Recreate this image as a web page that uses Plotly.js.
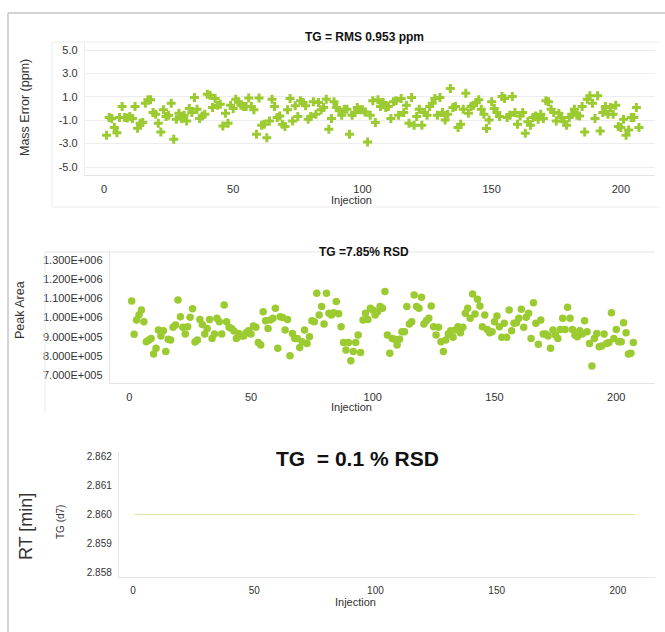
<!DOCTYPE html>
<html>
<head>
<meta charset="utf-8">
<script src="https://cdn.plot.ly/plotly-3.0.1.min.js"></script>
<style>html,body{margin:0;padding:0;background:#fff;}#chart{width:665px;height:632px;}</style>
</head>
<body>
<div id="chart"></div>
<script>
// ---------- DATA ----------
const injection = Array.from({length: 207}, (_, i) => i + 1);

const massError = [
-2.29,-0.77,-0.86,-1.63,-2.06,-0.77,0.17,-0.77,-0.80,-0.69,
-0.86,0.17,-1.69,-1.26,-1.20,0.46,0.74,0.74,-0.34,-0.49,
-1.26,-2.00,-0.11,-0.69,-0.57,0.46,-2.63,-0.91,-0.40,-0.86,
-0.57,-1.06,0.00,-0.34,0.94,-0.06,-0.86,-0.63,-0.49,1.23,
1.14,0.09,0.86,0.29,0.37,-1.49,-0.40,-1.26,0.29,0.00,
0.80,0.57,0.29,0.17,0.17,0.91,0.17,-0.11,-2.20,0.91,
-1.43,-1.34,-2.49,-1.06,0.80,0.17,-0.77,-0.63,-1.34,-1.54,
-0.11,0.86,-1.06,0.23,-0.69,0.66,0.51,0.23,-0.91,-0.69,
0.57,-0.49,0.51,-0.11,0.09,0.80,-1.77,-0.86,0.57,0.09,
-0.20,-0.57,-0.06,-0.06,-2.20,-0.57,-0.34,0.09,-0.11,-0.11,
-0.30,-2.86,-0.57,0.66,-1.20,0.74,0.17,0.51,0.09,0.17,
-0.86,0.57,0.66,-0.57,0.86,-0.34,0.29,-1.26,0.94,-1.43,
-0.69,-0.06,-1.43,-0.34,-0.57,0.17,0.46,0.86,-0.57,0.94,
-0.34,-0.97,-0.49,1.71,0.09,0.17,-1.63,-1.34,-0.06,1.31,
-0.40,0.17,0.29,0.51,0.74,-0.06,-0.49,-1.71,-0.97,0.57,
0.00,-0.34,-0.69,1.03,0.86,-0.77,-0.57,1.03,-0.34,-1.34,
-0.63,-0.34,-2.11,-1.14,-1.43,-0.77,-0.63,-0.91,-0.49,-0.86,
0.66,0.57,-0.06,-0.34,-1.06,-0.40,-0.77,-1.14,-1.43,-0.77,
-0.49,-0.06,-0.57,-0.63,0.17,-2.00,0.80,1.09,0.46,-0.86,
1.09,-1.91,-0.34,0.17,-0.49,0.09,-0.49,0.29,-1.54,-1.63,
-0.91,-2.29,-1.83,-0.77,-0.77,0.09,-1.63
];

const peakArea = [
1086000,912000,987000,1013000,1039000,978000,874000,883000,891000,810000,
839000,935000,903000,931000,822000,886000,883000,949000,961000,1091000,
1004000,949000,914000,952000,1001000,1046000,872000,883000,990000,964000,
914000,942000,990000,891000,914000,996000,978000,914000,1065000,978000,
949000,943000,930000,891000,917000,903000,903000,921000,931000,914000,
956000,949000,869000,857000,1030000,983000,943000,987000,996000,1048000,
839000,1004000,1000000,935000,990000,800000,917000,891000,891000,844000,
874000,935000,865000,900000,983000,978000,1126000,1013000,1057000,966000,
1126000,1022000,1013000,1025000,1083000,1020000,952000,869000,830000,869000,
775000,822000,869000,909000,817000,987000,1022000,990000,1048000,1039000,
1013000,1030000,1057000,1048000,1135000,909000,813000,891000,886000,857000,
886000,926000,926000,1057000,966000,978000,1117000,1057000,1048000,1105000,
966000,983000,996000,1060000,952000,909000,949000,874000,822000,883000,
914000,931000,897000,935000,952000,921000,949000,1022000,1048000,996000,
1123000,1018000,1095000,1060000,952000,1013000,938000,921000,926000,978000,
1008000,952000,897000,970000,897000,1039000,931000,970000,973000,996000,
1043000,949000,1001000,1022000,891000,1077000,970000,860000,987000,914000,
914000,903000,839000,935000,909000,891000,938000,996000,938000,1053000,
996000,938000,909000,900000,931000,914000,983000,926000,865000,747000,
891000,917000,848000,851000,914000,865000,869000,1025000,891000,938000,
874000,874000,973000,921000,810000,813000,869000
];

const retentionTime = [
2.860,2.860,2.860,2.860,2.860,2.860,2.860,2.860,2.860,2.860,
2.860,2.860,2.860,2.860,2.860,2.860,2.860,2.860,2.860,2.860,
2.860,2.860,2.860,2.860,2.860,2.860,2.860,2.860,2.860,2.860,
2.860,2.860,2.860,2.860,2.860,2.860,2.860,2.860,2.860,2.860,
2.860,2.860,2.860,2.860,2.860,2.860,2.860,2.860,2.860,2.860,
2.860,2.860,2.860,2.860,2.860,2.860,2.860,2.860,2.860,2.860,
2.860,2.860,2.860,2.860,2.860,2.860,2.860,2.860,2.860,2.860,
2.860,2.860,2.860,2.860,2.860,2.860,2.860,2.860,2.860,2.860,
2.860,2.860,2.860,2.860,2.860,2.860,2.860,2.860,2.860,2.860,
2.860,2.860,2.860,2.860,2.860,2.860,2.860,2.860,2.860,2.860,
2.860,2.860,2.860,2.860,2.860,2.860,2.860,2.860,2.860,2.860,
2.860,2.860,2.860,2.860,2.860,2.860,2.860,2.860,2.860,2.860,
2.860,2.860,2.860,2.860,2.860,2.860,2.860,2.860,2.860,2.860,
2.860,2.860,2.860,2.860,2.860,2.860,2.860,2.860,2.860,2.860,
2.860,2.860,2.860,2.860,2.860,2.860,2.860,2.860,2.860,2.860,
2.860,2.860,2.860,2.860,2.860,2.860,2.860,2.860,2.860,2.860,
2.860,2.860,2.860,2.860,2.860,2.860,2.860,2.860,2.860,2.860,
2.860,2.860,2.860,2.860,2.860,2.860,2.860,2.860,2.860,2.860,
2.860,2.860,2.860,2.860,2.860,2.860,2.860,2.860,2.860,2.860,
2.860,2.860,2.860,2.860,2.860,2.860,2.860,2.860,2.860,2.860,
2.860,2.860,2.860,2.860,2.860,2.860,2.860
];

const xTickVals = [0, 50, 100, 150, 200];
const massTickVals = [-5, -3, -1, 1, 3, 5];
const massTickText = ['-5.0', '-3.0', '-1.0', '1.0', '3.0', '5.0'];
const areaTickVals = [700000, 800000, 900000, 1000000, 1100000, 1200000, 1300000];
const areaTickText = ['7.000E+005', '8.000E+005', '9.000E+005', '1.000E+006', '1.100E+006', '1.200E+006', '1.300E+006'];
const rtTickVals = [2.858, 2.859, 2.860, 2.861, 2.862];
const rtTickText = ['2.858', '2.859', '2.860', '2.861', '2.862'];

const titleTop = 'TG = RMS 0.953 ppm';
const titleMid = 'TG =7.85% RSD';
const titleBot = 'TG&nbsp; = 0.1 % RSD';

// ---------- STYLE ----------
const W = 665, H = 632;
const px = v => v / W;
const py = v => 1 - v / H;
const green = '#9bcb30';
const FONT = 'Liberation Sans, Arial, Helvetica, sans-serif';
const tickCol = '#333333';
const axLine = '#e4e4e4';

const traces = [
  {x: injection, y: massError, type: 'scatter', mode: 'markers', xaxis: 'x', yaxis: 'y',
   marker: {symbol: 'cross', size: 7.5, color: green, line: {width: 0}}},
  {x: injection, y: peakArea, type: 'scatter', mode: 'markers', xaxis: 'x2', yaxis: 'y2',
   marker: {symbol: 'circle', size: 7.5, color: green, line: {width: 0}}},
  {x: injection, y: retentionTime, type: 'scatter', mode: 'lines', xaxis: 'x3', yaxis: 'y3',
   line: {color: '#a6d040', width: 1.2, dash: '1px,1px'}}
];

function xAx(dom, anchor, range, fs) {
  return {domain: dom, anchor: anchor, range: range, tickvals: xTickVals, showgrid: false,
          zeroline: false, showline: true, linecolor: axLine, linewidth: 1.2, ticks: '',
          ticklabelstandoff: 4, tickfont: {size: fs, color: tickCol, family: FONT}};
}
function yAx(dom, anchor, range, vals, text, fs, grid) {
  return {domain: dom, anchor: anchor, range: range, tickvals: vals, ticktext: text,
          showgrid: grid, gridcolor: '#ececec', gridwidth: 1, zeroline: false,
          showline: true, linecolor: grid ? '#f0f0f0' : axLine, linewidth: 1.2, ticks: '',
          ticklabelstandoff: 4, tickfont: {size: fs, color: tickCol, family: FONT}};
}

const ann = (text, x, y, size, bold, angle) => ({
  text: bold ? '<b>' + text + '</b>' : text, xref: 'paper', yref: 'paper',
  x: px(x), y: py(y), xanchor: 'center', yanchor: 'middle', showarrow: false,
  textangle: angle || 0, font: {size: size, color: bold ? '#111' : '#333', family: FONT}
});

const line = (x0, y0, x1, y1, color, w) => ({
  type: 'line', xref: 'paper', yref: 'paper', x0: px(x0), y0: py(y0), x1: px(x1), y1: py(y1),
  line: {color: color, width: w}
});

const layout = {
  width: W, height: H, margin: {l: 0, r: 0, t: 0, b: 0},
  paper_bgcolor: '#ffffff', plot_bgcolor: '#ffffff', showlegend: false,
  font: {family: FONT},
  xaxis: xAx([px(85), px(655)], 'y', [-7.35, 213.2], 11),
  yaxis: yAx([py(175), py(43)], 'x', [-5.68, 5.6], massTickVals, massTickText, 11, true),
  xaxis2: xAx([px(110), px(655)], 'y2', [-7.9, 215.9], 11),
  yaxis2: yAx([py(383), py(252)], 'x2', [658300, 1341700], areaTickVals, areaTickText, 11, false),
  xaxis3: xAx([px(119), px(655)], 'y3', [-5.77, 215.3], 10),
  yaxis3: yAx([py(577), py(452)], 'x3', [2.85783, 2.86217], rtTickVals, rtTickText, 10, false),
  shapes: [
    line(8, 13, 665, 13, '#c4c4c4', 1.5),
    line(8, 13, 8, 632, '#c4c4c4', 1.5),
    line(52, 42, 660, 42, '#ececec', 1),
    line(52, 42, 52, 207, '#ececec', 1),
    line(52, 207, 660, 207, '#ececec', 1),
    line(45, 252, 655, 252, '#e4e4e4', 1),
    line(45, 252, 45, 413, '#ececec', 1)
  ],
  annotations: [
    ann(titleTop, 364, 37, 12, true),
    ann(titleMid, 364, 252, 12, true),
    ann(titleBot, 357, 458, 21, true),
    ann('Injection', 352, 200, 11, false),
    ann('Injection', 351, 407, 11, false),
    ann('Injection', 355, 602, 11, false),
    ann('Mass Error (ppm)', 25, 108, 12.5, false, -90),
    ann('Peak Area', 20, 310, 12.5, false, -90),
    ann('TG (d7)', 60, 522, 10, false, -90),
    ann('RT [min]', 26, 527, 18, false, -90)
  ]
};

Plotly.newPlot('chart', traces, layout, {staticPlot: true, displayModeBar: false});
</script>
</body>
</html>
